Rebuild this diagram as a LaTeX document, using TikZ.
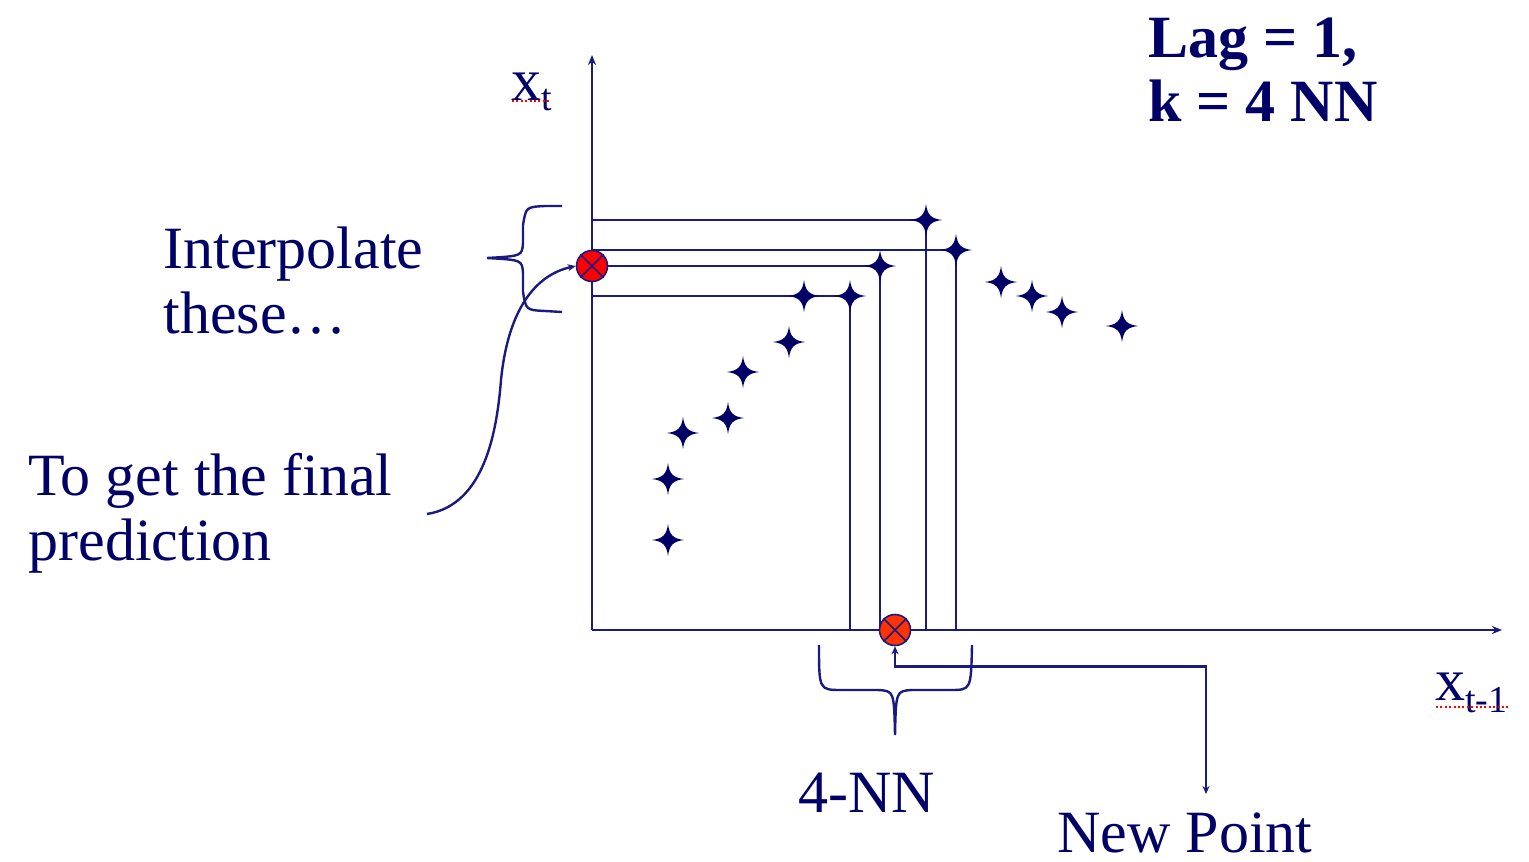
\documentclass[tikz,border=0pt]{standalone}
\usepackage{fontspec}
\setmainfont{Liberation Serif}
\usetikzlibrary{arrows.meta}
\definecolor{navy}{RGB}{0,0,102}
\definecolor{lnavy}{RGB}{26,26,128}
\definecolor{xred}{RGB}{255,0,0}
\definecolor{xorange}{RGB}{255,51,0}
\tikzset{
  ln/.style={draw=lnavy, line width=1.2pt},
  txt/.style={anchor=base west, inner sep=0pt, text=navy, font=\fontsize{30}{36}\selectfont},
  btxt/.style={txt, font=\fontsize{30}{36}\selectfont\bfseries},
  xcirc/.style={circle, minimum size=15.5pt, inner sep=0pt, draw=lnavy, line width=0.8pt},
  spell/.style={draw=xred, line width=0.8pt, dash pattern=on 1pt off 1.2pt},
  starmark/.pic={\fill[navy] (0,16) .. controls (1.5,5) and (5,1.5) .. (16,0)
      .. controls (5,-1.5) and (1.5,-5) .. (0,-16)
      .. controls (-1.5,-5) and (-5,-1.5) .. (-16,0)
      .. controls (-5,1.5) and (-1.5,5) .. (0,16) -- cycle;}
}
\begin{document}
\begin{tikzpicture}[x=0.5pt,y=-0.5pt]
\useasboundingbox (0,0) rectangle (1529,861);
% axes
\coordinate (O) at (592,630);
\coordinate (ytop) at (592,55);
\coordinate (xend) at (1502,630);
\draw[ln, -{Stealth[length=5pt,width=4pt]}] (O) -- (ytop);
\draw[ln, -{Stealth[length=5pt,width=4pt]}] (O) -- (xend);
% star coordinates
\coordinate (s1) at (926,220);
\coordinate (s2) at (956,250);
\coordinate (s3) at (880,266);
\coordinate (s4) at (850,296);
\coordinate (s5) at (804,296);
\coordinate (s6) at (1001,282);
\coordinate (s7) at (1032,296);
\coordinate (s8) at (1062,312);
\coordinate (s9) at (1122,326);
\coordinate (s10) at (789,342);
\coordinate (s11) at (743,372);
\coordinate (s12) at (728,418);
\coordinate (s13) at (683,433);
\coordinate (s14) at (668,479);
\coordinate (s15) at (668,540);
% axis foot points
\coordinate (ya) at (592,220);
\coordinate (yb) at (592,250);
\coordinate (yd) at (592,296);
\coordinate (xa) at (926,630);
\coordinate (xb) at (956,630);
\coordinate (xc) at (880,630);
\coordinate (xd) at (850,630);
% projection lines
\draw[ln] (ya) -- (s1) -- (xa);
\draw[ln] (yb) -- (s2) -- (xb);
\draw[ln] (yd) -- (s4) -- (xd);
\draw[ln] (592,266) -- (s3) -- (xc);
% stars
\foreach \s in {s1,s2,s3,s4,s5,s6,s7,s8,s9,s10,s11,s12,s13,s14,s15}
  \pic at (\s) {starmark};
% circled crosses
\node[xcirc, fill=xred] (P) at (592,266) {};
\draw[lnavy, line width=0.8pt] (P.north west) -- (P.south east) (P.north east) -- (P.south west);
\node[xcirc, fill=xorange] (Q) at (895,630) {};
\draw[lnavy, line width=0.8pt] (Q.north west) -- (Q.south east) (Q.north east) -- (Q.south west);
% left brace
\draw[ln] (562,206) -- (545,206) .. controls (526,207) .. (523,225) -- (523,243)
  .. controls (522,256) .. (487,258)
  .. controls (522,260) .. (523,273) -- (523,292)
  .. controls (526,310) .. (545,311) -- (562,312);
% bottom brace
\draw[ln] (819,645) .. controls (819,690) .. (842,690) -- (878,690)
  .. controls (894,691) .. (895,735)
  .. controls (896,691) .. (912,690) -- (950,690)
  .. controls (971,690) .. (972,645);
% curve to top circle
\coordinate (cs) at (427,514);
\draw[ln, -{Stealth[length=4pt,width=3.5pt]}] (cs) .. controls (485,505) and (497,430) .. (501,380)
  .. controls (508,310) and (535,275) .. (P.west);
% new point connector
\coordinate (npa) at (1206,794);
\draw[ln, {Stealth[length=4pt,width=3.5pt]}-{Stealth[length=4pt,width=3.5pt]}] (Q.south) -- ++(0,20) -| (npa);
% texts
\node[btxt] (lag) at (1148,58) {Lag = 1,};
\node[btxt] (knn) at (1148,122) {k = 4 NN};
\node[txt] (interp) at (163,268) {Interpolate};
\node[txt] (these) at (163,333) {these\ldots};
\node[txt] (toget) at (28,495) {To get the final};
\node[txt] (pred) at (28,560) {prediction};
\node[txt] (fournn) at (798,812) {4-NN};
\node[txt] (newp) at (1057,852) {New Point};
\node[txt] (xt) at (511,101) {x\raisebox{-5pt}{\fontsize{19}{22}\selectfont t}};
\node[txt] (xt1) at (1435,700) {x\raisebox{-6pt}{\fontsize{19}{22}\selectfont t-1}};
\draw[spell] (512,101) -- (550,101);
\draw[spell] (1436,707) -- (1508,707);
\end{tikzpicture}
\end{document}
